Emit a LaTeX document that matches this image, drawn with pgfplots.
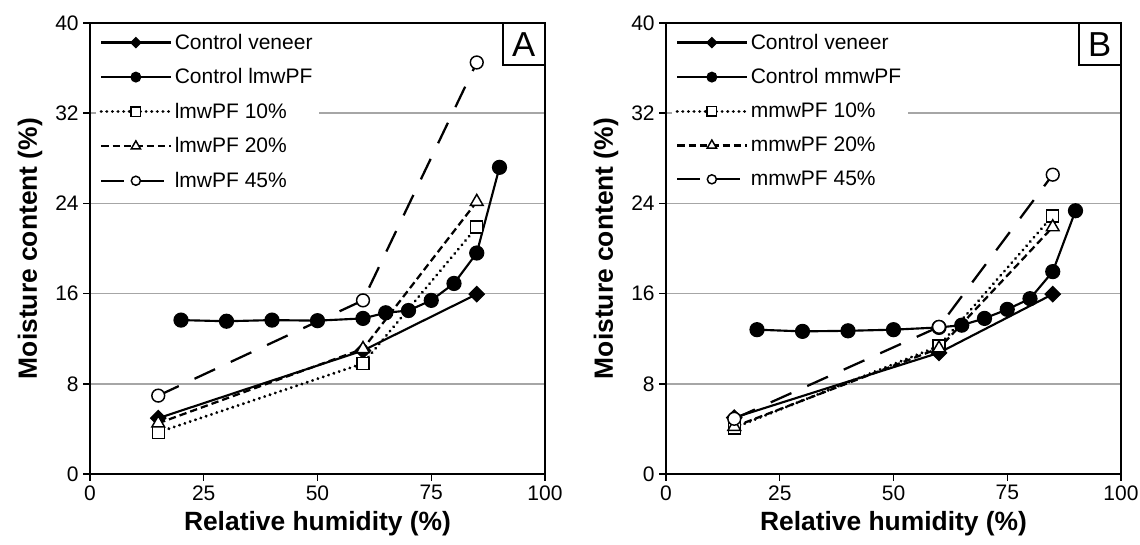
\documentclass[border=0pt]{standalone}
\usepackage{fontspec}
\setmainfont{Liberation Sans}
\usepackage{pgfplots}
\pgfplotsset{compat=1.18}

\begin{document}
\begin{tikzpicture}
\pgfplotsset{
  mcax/.style={
    width=341.25pt, height=338.25pt, scale only axis,
    xmin=0, xmax=100, ymin=0, ymax=40,
    xtick={0,25,50,75,100}, ytick={0,8,...,40},
    tick align=outside, xtick pos=bottom, ytick pos=left,
    major tick length=5pt,
    tick style={black,line width=1.1pt},
    axis line style={black,line width=1.6pt},
    ymajorgrids, grid style={black!35,line width=1.1pt},
    ticklabel style={font=\fontsize{15.75pt}{18pt}\selectfont},
    /pgf/number format/assume math mode=true,
    xlabel={Relative humidity (\%)}, ylabel={Moisture content (\%)},
    label style={font=\fontsize{19.8pt}{22pt}\selectfont\bfseries},
    xlabel style={at={(axis description cs:0.5,-0.111)},anchor=center},
    ylabel style={at={(axis description cs:-0.132,0.5)},anchor=center},
    legend style={at={(0,1)}, anchor=north west, draw=none, fill=white,
      font=\fontsize{15.75pt}{18pt}\selectfont, row sep=9pt,
      xshift=4pt, yshift=-4pt},
    legend cell align=left,
    legend image code/.code={
      \draw[##1,mark=none] (0pt,0pt)--(52pt,0pt);
      \draw[##1] plot coordinates {(26pt,0pt)};},
  },
  cv/.style={black,solid,line width=1.6pt,mark=square*,mark size=4pt,mark options={solid,rotate=45,line width=1pt}},
  cp/.style={black,solid,line width=1.6pt,mark=*,mark size=5.2pt,mark options={solid,line width=1pt}},
  p10/.style={black,line width=2.4pt,line cap=round,dash pattern=on 0.01pt off 4.2pt,mark=square*,mark size=4.5pt,mark options={solid,fill=white,line width=1.1pt,line cap=butt}},
  p20/.style={black,line width=1.7pt,dash pattern=on 5.5pt off 3pt,mark=triangle*,mark size=5.5pt,mark options={solid,fill=white,line width=1.1pt}},
  p45/.style={black,line width=1.7pt,dash pattern=on 17pt off 13pt,mark=*,mark size=4.8pt,mark options={solid,fill=white,line width=1.1pt}},
}

% ---------- panel A ----------
\begin{axis}[mcax, at={(67.5pt,52.5pt)}, anchor=south west]
\addplot[cv,forget plot] coordinates {(15,4.95)(60,10.95)(85,15.95)};
\addplot[cp,forget plot] coordinates {(20,13.65)(30,13.55)(40,13.65)(50,13.6)(60,13.8)(65,14.3)(70,14.5)(75,15.4)(80,16.9)(85,19.6)(90,27.2)};
\addplot[p10,forget plot] coordinates {(15,3.7)(60,9.8)(85,21.9)};
\addplot[p20,forget plot] coordinates {(15,4.5)(60,11.1)(85,24.15)};
\addplot[p45,forget plot] coordinates {(15,6.95)(60,15.4)(85,36.5)};
\addlegendimage{cv,mark size=2.6pt}
\addlegendentry{Control veneer}
\addlegendimage{cp,mark size=3.6pt}
\addlegendentry{Control lmwPF}
\addlegendimage{p10,mark size=3.5pt}
\addlegendentry{lmwPF 10\%}
\addlegendimage{p20,mark size=4pt}
\addlegendentry{lmwPF 20\%}
\addlegendimage{p45,mark size=3.4pt}
\addlegendentry{lmwPF 45\%}
\node[draw,line width=1.1pt,fill=white,anchor=north east,minimum width=31pt,
  minimum height=31pt,inner sep=0pt,font=\fontsize{26pt}{28pt}\selectfont]
  at (rel axis cs:1,1) {A};
\end{axis}

% ---------- panel B ----------
\begin{axis}[mcax, at={(499.5pt,52.5pt)}, anchor=south west]
\addplot[cv,forget plot] coordinates {(15,5.0)(60,10.75)(85,15.95)};
\addplot[cp,forget plot] coordinates {(20,12.8)(30,12.65)(40,12.7)(50,12.8)(60,13.0)(65,13.2)(70,13.8)(75,14.6)(80,15.55)(85,17.95)(90,23.35)};
\addplot[p10,forget plot] coordinates {(15,4.1)(60,11.35)(85,22.9)};
\addplot[p20,forget plot] coordinates {(15,4.2)(60,11.15)(85,21.9)};
\addplot[p45,forget plot] coordinates {(15,4.9)(60,13.05)(85,26.55)};
\addlegendimage{cv,mark size=2.6pt}
\addlegendentry{Control veneer}
\addlegendimage{cp,mark size=3.6pt}
\addlegendentry{Control mmwPF}
\addlegendimage{p10,mark size=3.5pt}
\addlegendentry{mmwPF 10\%}
\addlegendimage{p20,mark size=4pt}
\addlegendentry{mmwPF 20\%}
\addlegendimage{p45,mark size=3.4pt}
\addlegendentry{mmwPF 45\%}
\node[draw,line width=1.1pt,fill=white,anchor=north east,minimum width=31pt,
  minimum height=31pt,inner sep=0pt,font=\fontsize{26pt}{28pt}\selectfont]
  at (rel axis cs:1,1) {B};
\end{axis}

\pgfresetboundingbox
\path[use as bounding box] (0,0) rectangle (855pt,408pt);
\end{tikzpicture}
\end{document}
